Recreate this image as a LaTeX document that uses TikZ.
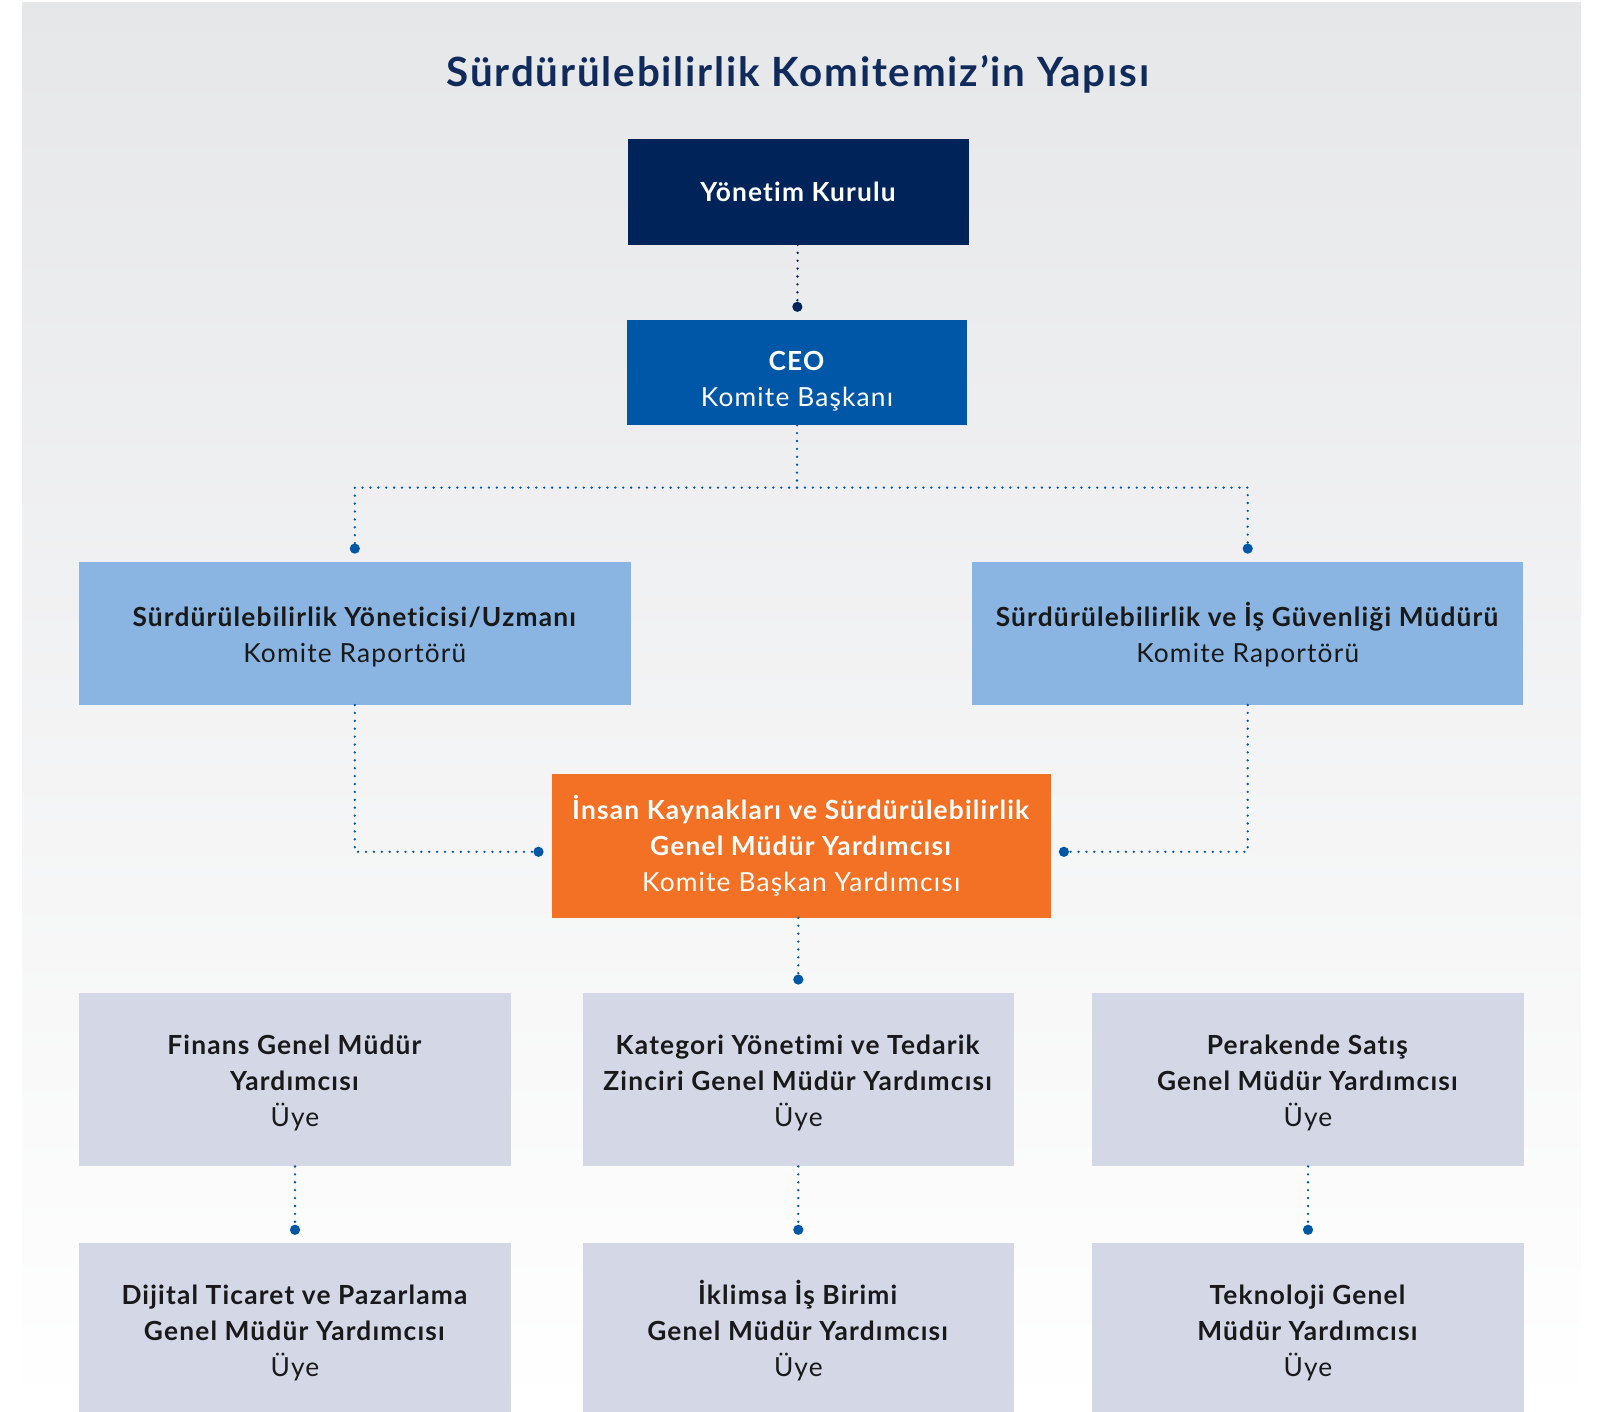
\documentclass[tikz,border=0pt]{standalone}
\usepackage{fontspec}
\setmainfont{Lato}[LetterSpace=4.5, Ligatures=CommonOff]
\usetikzlibrary{arrows.meta,positioning}
\definecolor{navy}{HTML}{00245A}
\definecolor{titlenavy}{HTML}{102B5B}
\definecolor{ceoblue}{HTML}{0057A8}
\definecolor{lightblue}{HTML}{8AB4E1}
\definecolor{hrorange}{HTML}{F37124}
\definecolor{memgray}{HTML}{D3D7E6}
\definecolor{bgtop}{HTML}{E6E7E9}
% fixed top and bottom of the text block, so every box is centred on the capitals
\newcommand\boxlines[2][27.8pt]{\rule{0pt}{#1}#2\rule[-9pt]{0pt}{0pt}}

\begin{document}
\begin{tikzpicture}[x=1pt, y=-1pt,
    box/.style = {inner sep=0pt, align=center, text=black!90, font=\fontsize{26.3pt}{36pt}\selectfont},
    dots/.style = {draw=ceoblue, line width=2.6pt, line cap=round, dash pattern=on 0pt off 7.9pt},
    link/.style = {dots, -{Circle[length=10pt]}, shorten >=8pt},
    member/.style = {box, fill=memgray, minimum width=431.5pt}]
    \useasboundingbox (0,0) rectangle (1613,1412);
    \shade[top color=bgtop, bottom color=white] (22.6,3) rectangle (1581,1412);

    \node[font=\fontsize{40.3pt}{46pt}\selectfont\bfseries, text=titlenavy, anchor=base] (title) at (798,86.7) {Sürdürülebilirlik Komitemiz’in Yapısı};

    \node[box, fill=navy, text=white, minimum width=341pt, minimum height=106pt, font=\fontsize{26.3pt}{36pt}\selectfont\bfseries] (yk) at (798,191.7) {\boxlines{Yönetim Kurulu}};
    \node[box, fill=ceoblue, text=white, minimum width=339.5pt, minimum height=105pt] (ceo) at (797,372.5) {\boxlines[40pt]{\textbf{CEO}\\Komite Başkanı}};
    \node[box, fill=lightblue, minimum width=551.6pt, minimum height=143pt] (sy) at (354.8,633.3) {\boxlines[31pt]{\textbf{Sürdürülebilirlik Yöneticisi/Uzmanı}\\Komite Raportörü}};
    \node[box, fill=lightblue, minimum width=551.5pt, minimum height=143pt] (sg) at (1247.7,633.3) {\boxlines[31pt]{\textbf{Sürdürülebilirlik ve İş Güvenliği Müdürü}\\Komite Raportörü}};
    \node[box, fill=hrorange, text=white, minimum width=499pt, minimum height=143.7pt] (hr) at (801.2,845.8) {\boxlines{\textbf{İnsan Kaynakları ve Sürdürülebilirlik}\\\textbf{Genel Müdür Yardımcısı}\\Komite Başkan Yardımcısı}};

    % members
    \node[member, minimum height=173.5pt] (fin) at (295,1079.5) {\boxlines[31pt]{\textbf{Finans Genel Müdür}\\\textbf{Yardımcısı}\\Üye}};
    \node[member, minimum height=173.5pt] (kat) at (798.3,1079.5) {\boxlines[31pt]{\textbf{Kategori Yönetimi ve Tedarik}\\\textbf{Zinciri Genel Müdür Yardımcısı}\\Üye}};
    \node[member, minimum height=173.5pt] (per) at (1308,1079.5) {\boxlines[31pt]{\textbf{Perakende Satış}\\\textbf{Genel Müdür Yardımcısı}\\Üye}};
    \node[member, minimum height=169pt] (dij) at (295,1327.5) {\boxlines[34pt]{\textbf{Dijital Ticaret ve Pazarlama}\\\textbf{Genel Müdür Yardımcısı}\\Üye}};
    \node[member, minimum height=169pt] (ikl) at (798.3,1327.5) {\boxlines[34pt]{\textbf{İklimsa İş Birimi}\\\textbf{Genel Müdür Yardımcısı}\\Üye}};
    \node[member, minimum height=169pt] (tek) at (1308,1327.5) {\boxlines[34pt]{\textbf{Teknoloji Genel}\\\textbf{Müdür Yardımcısı}\\Üye}};

    \coordinate (split) at (797,487.6);
    \draw[link, draw=navy] (yk) -- (ceo);
    \draw[dots] (ceo) -- (split);
    \draw[link] (split) -| (sy);
    \draw[link] (split) -| (sg);
    \draw[link] (sy) |- ([yshift=-6pt]hr.west);
    \draw[link] (sg) |- ([yshift=-6pt]hr.east);
    \draw[link] (hr.south -| kat.north) -- (kat);
    \draw[link] (fin) -- (dij);
    \draw[link] (kat) -- (ikl);
    \draw[link] (per) -- (tek);
\end{tikzpicture}
\end{document}
